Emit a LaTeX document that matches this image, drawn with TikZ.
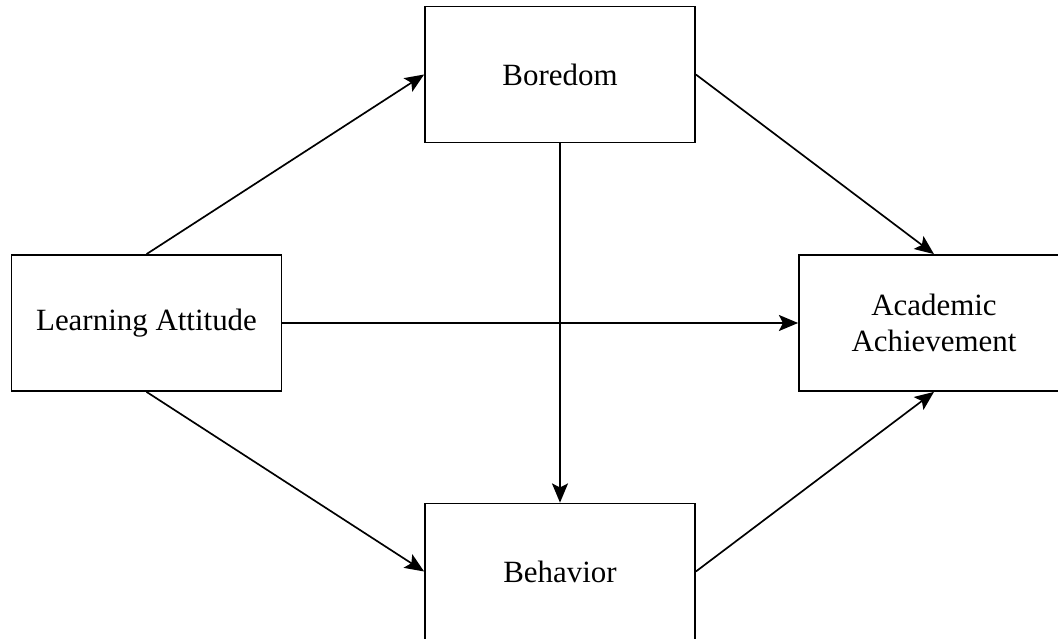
\documentclass[tikz,border=0pt]{standalone}
\usepackage{fontspec}
\setmainfont{Liberation Serif}
\usetikzlibrary{arrows.meta}

\begin{document}
\begin{tikzpicture}[x=0.025cm,y=0.025cm,
    var/.style={draw,line width=1.2pt,minimum width=6.75cm,minimum height=3.4cm,
      align=center,font=\fontsize{22}{26}\selectfont},
    path/.style={-{Stealth[length=0.48cm,width=0.4cm,inset=0.1cm]},line width=1.2pt}]
  \useasboundingbox (0,0) rectangle (1058,638);
  % variables
  \node[var] (learn) at (146.5,315) {Learning Attitude};
  \node[var] (bore) at (560,563.5) {Boredom};
  \node[var] (beh) at (560,66.5) {Behavior};
  \node[var] (acad) at (934,315) {Academic\\Achievement};
  % paths
  \foreach \from/\to in {learn.north/bore.west,learn.south/beh.west,learn.east/acad.west,
      bore.south/beh.north,bore.east/acad.north,beh.east/acad.south}
    \draw[path] (\from) -- (\to);
\end{tikzpicture}
\end{document}
